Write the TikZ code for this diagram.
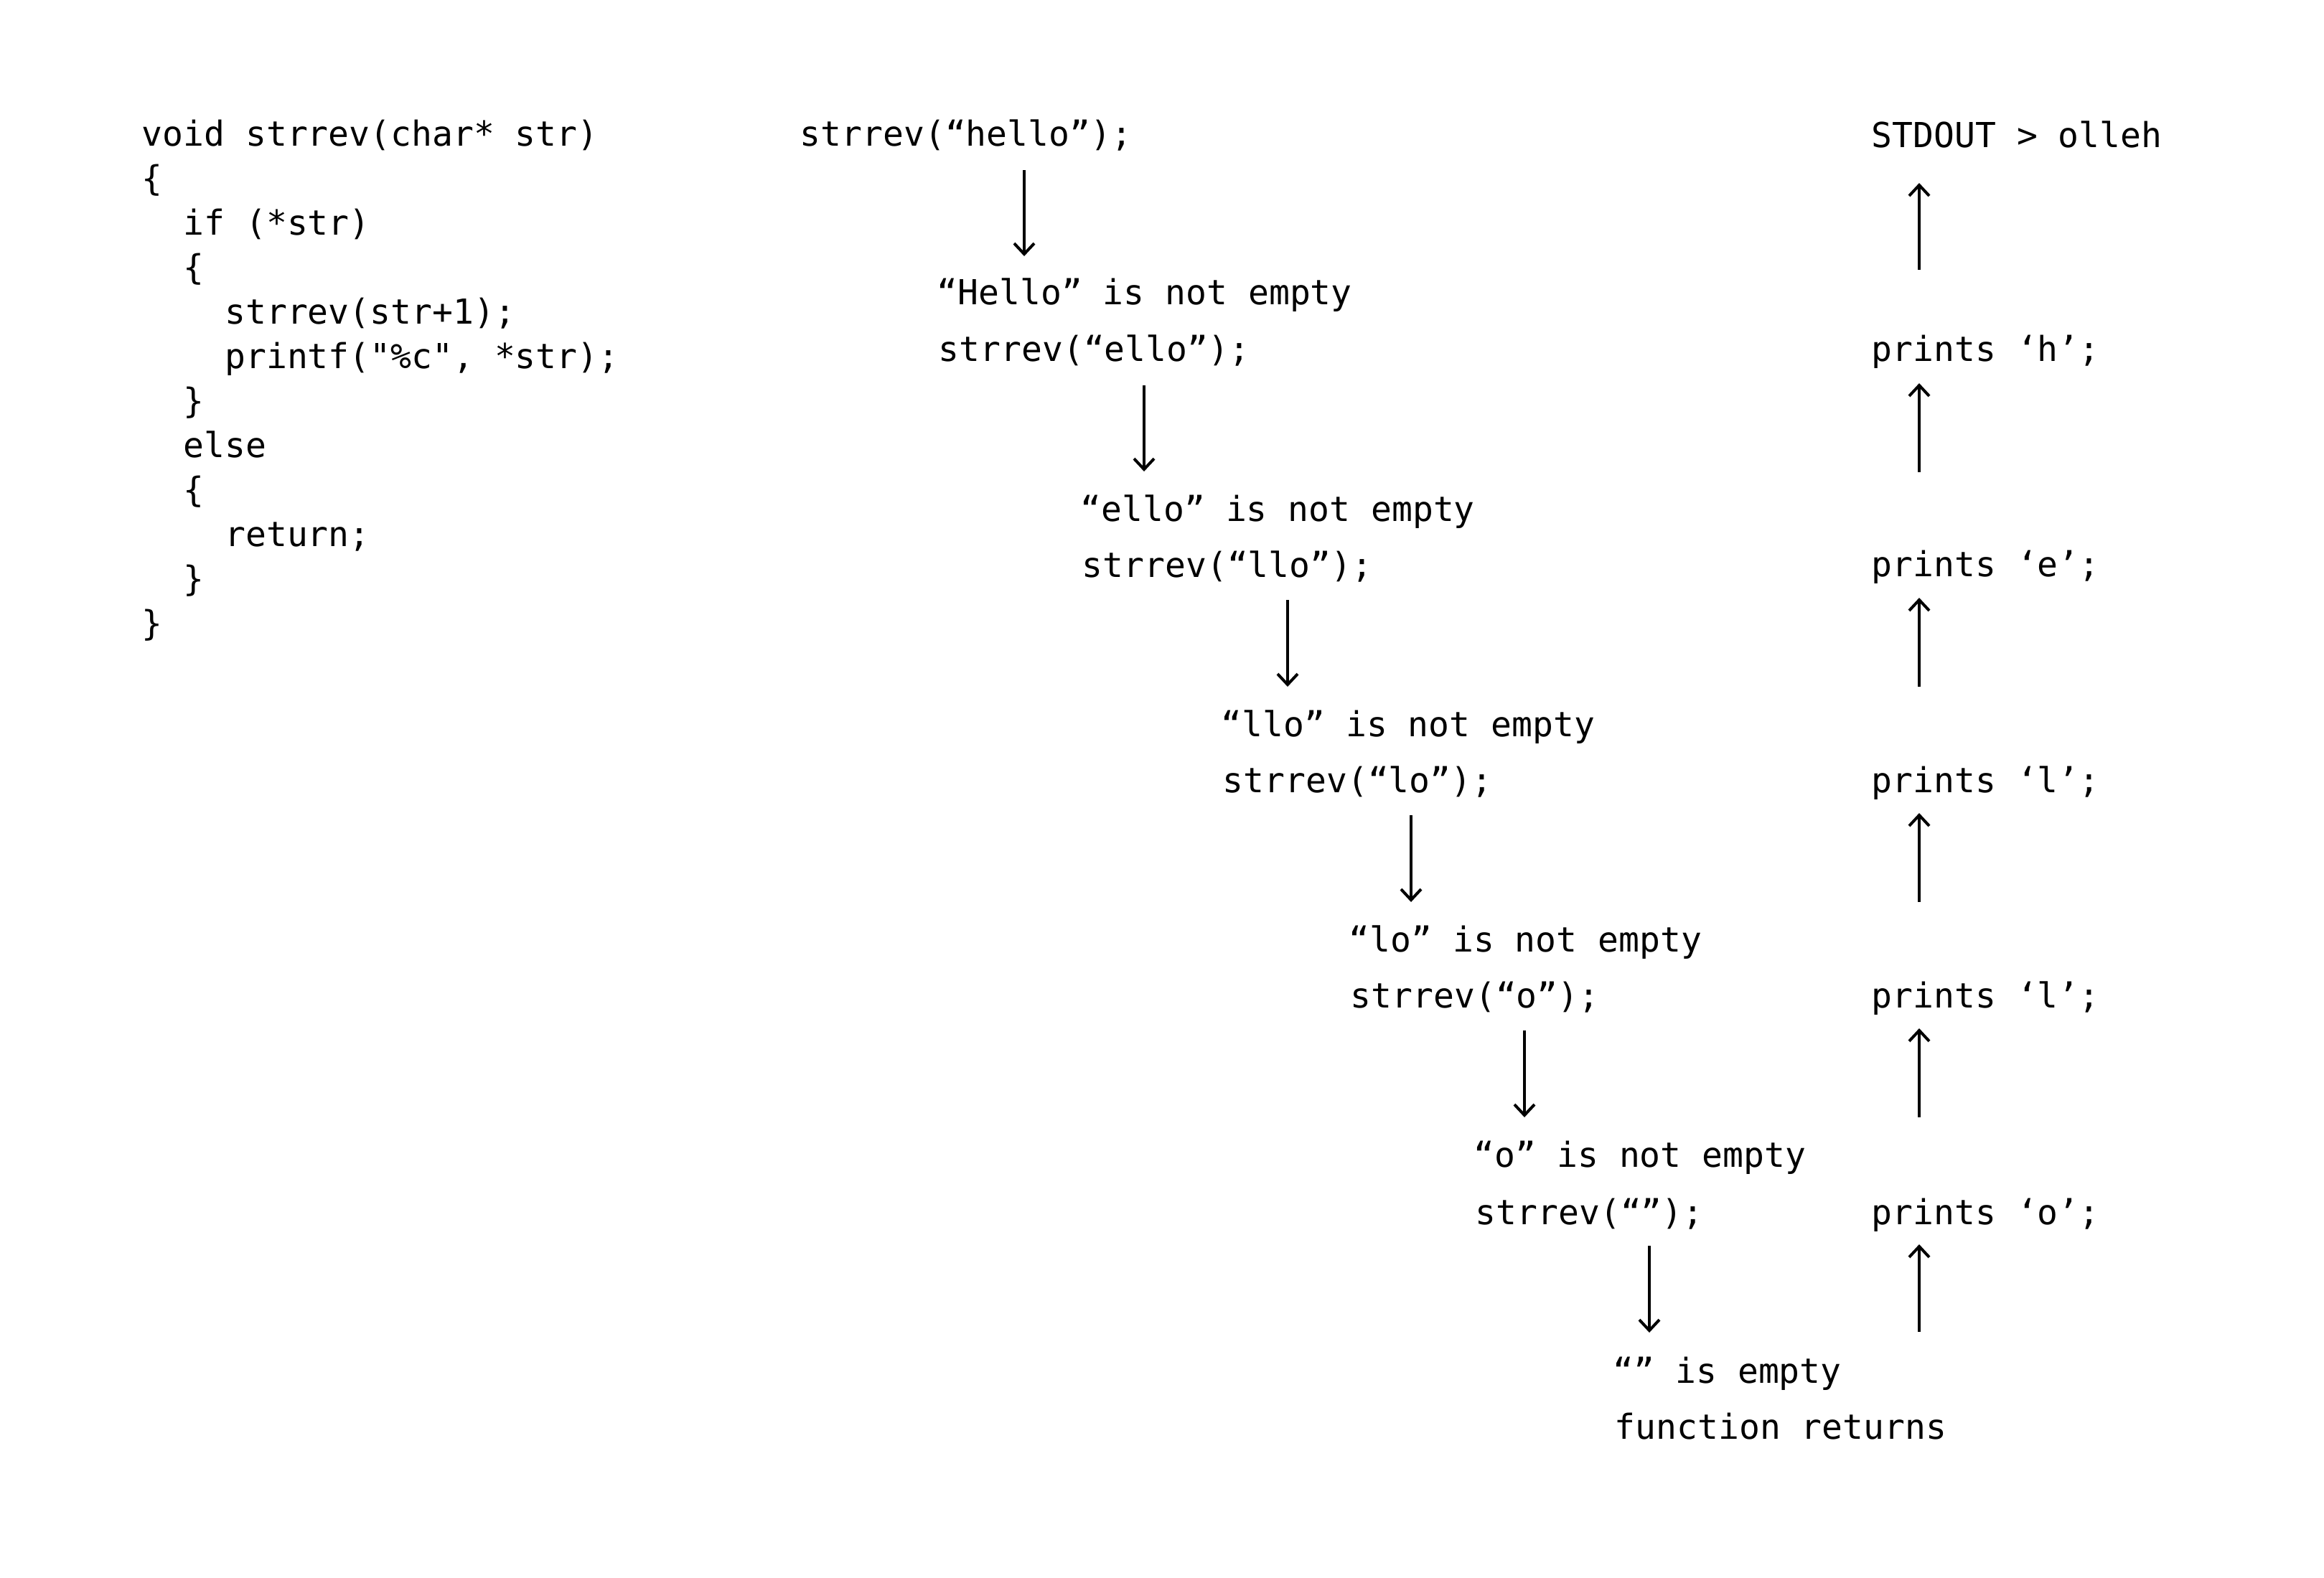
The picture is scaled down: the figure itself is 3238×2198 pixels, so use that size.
\documentclass[tikz,border=0pt]{standalone}
\usepackage{fontspec}
\setmonofont{DejaVu Sans Mono}
\usetikzlibrary{arrows.meta}
\tikzset{
  txt/.style={anchor=base west, inner sep=0pt, font=\ttfamily\fontsize{12}{14}\selectfont},
  arr/.style={line width=1pt, -{Straight Barb[length=3.75pt,width=7pt]}}
}
\begin{document}
\begin{tikzpicture}[x=0.25pt,y=-0.25pt]
\useasboundingbox[fill=white] (0,0) rectangle (3238,2198);
% code listing
\node[txt] (c1)  at (197,203) {void strrev(char* str)};
\node[txt] (c2)  at (197,265) {\{};
\node[txt] (c3)  at (197,327) {\phantom{xx}if (*str)};
\node[txt] (c4)  at (197,389) {\phantom{xx}\{};
\node[txt] (c5)  at (197,451) {\phantom{xxxx}strrev(str+1);};
\node[txt] (c6)  at (197,513) {\phantom{xxxx}printf("\%c", *str);};
\node[txt] (c7)  at (197,575) {\phantom{xx}\}};
\node[txt] (c8)  at (197,637) {\phantom{xx}else};
\node[txt] (c9)  at (197,699) {\phantom{xx}\{};
\node[txt] (c10) at (197,761) {\phantom{xxxx}return;};
\node[txt] (c11) at (197,823) {\phantom{xx}\}};
\node[txt] (c12) at (197,885) {\}};
% recursion chain
\node[txt] (m0)  at (1114,203) {strrev(“hello”);};
\node[txt] (m1a) at (1305,424) {“Hello” is not empty};
\node[txt] (m1b) at (1307,503) {strrev(“ello”);};
\node[txt] (m2a) at (1505,726) {“ello” is not empty};
\node[txt] (m2b) at (1507,804) {strrev(“llo”);};
\node[txt] (m3a) at (1701,1026) {“llo” is not empty};
\node[txt] (m3b) at (1703,1104) {strrev(“lo”);};
\node[txt] (m4a) at (1879,1326) {“lo” is not empty};
\node[txt] (m4b) at (1881,1404) {strrev(“o”);};
\node[txt] (m5a) at (2053,1626) {“o” is not empty};
\node[txt] (m5b) at (2055,1706) {strrev(“”);};
\node[txt] (m6a) at (2247,1927) {“” is empty};
\node[txt] (m6b) at (2249,2005) {function returns};
% output column
\node[txt] (r0) at (2607,205) {STDOUT > olleh};
\node[txt] (r1) at (2607,503) {prints ‘h’;};
\node[txt] (r2) at (2607,803) {prints ‘e’;};
\node[txt] (r3) at (2607,1104) {prints ‘l’;};
\node[txt] (r4) at (2607,1404) {prints ‘l’;};
\node[txt] (r5) at (2607,1706) {prints ‘o’;};
% down arrows
\coordinate (d1s) at (1427,237);  \coordinate (d1e) at (1427,357);
\coordinate (d2s) at (1594,537);  \coordinate (d2e) at (1594,657);
\coordinate (d3s) at (1794,836);  \coordinate (d3e) at (1794,957);
\coordinate (d4s) at (1966,1136); \coordinate (d4e) at (1966,1257);
\coordinate (d5s) at (2124,1436); \coordinate (d5e) at (2124,1557);
\coordinate (d6s) at (2298,1736); \coordinate (d6e) at (2298,1857);
\draw[arr] (d1s) -- (d1e);
\draw[arr] (d2s) -- (d2e);
\draw[arr] (d3s) -- (d3e);
\draw[arr] (d4s) -- (d4e);
\draw[arr] (d5s) -- (d5e);
\draw[arr] (d6s) -- (d6e);
% up arrows
\coordinate (u1s) at (2674,376);  \coordinate (u1e) at (2674,255);
\coordinate (u2s) at (2674,658);  \coordinate (u2e) at (2674,534);
\coordinate (u3s) at (2674,957);  \coordinate (u3e) at (2674,833);
\coordinate (u4s) at (2674,1257); \coordinate (u4e) at (2674,1133);
\coordinate (u5s) at (2674,1557); \coordinate (u5e) at (2674,1433);
\coordinate (u6s) at (2674,1856); \coordinate (u6e) at (2674,1734);
\draw[arr] (u1s) -- (u1e);
\draw[arr] (u2s) -- (u2e);
\draw[arr] (u3s) -- (u3e);
\draw[arr] (u4s) -- (u4e);
\draw[arr] (u5s) -- (u5e);
\draw[arr] (u6s) -- (u6e);
\end{tikzpicture}
\end{document}
